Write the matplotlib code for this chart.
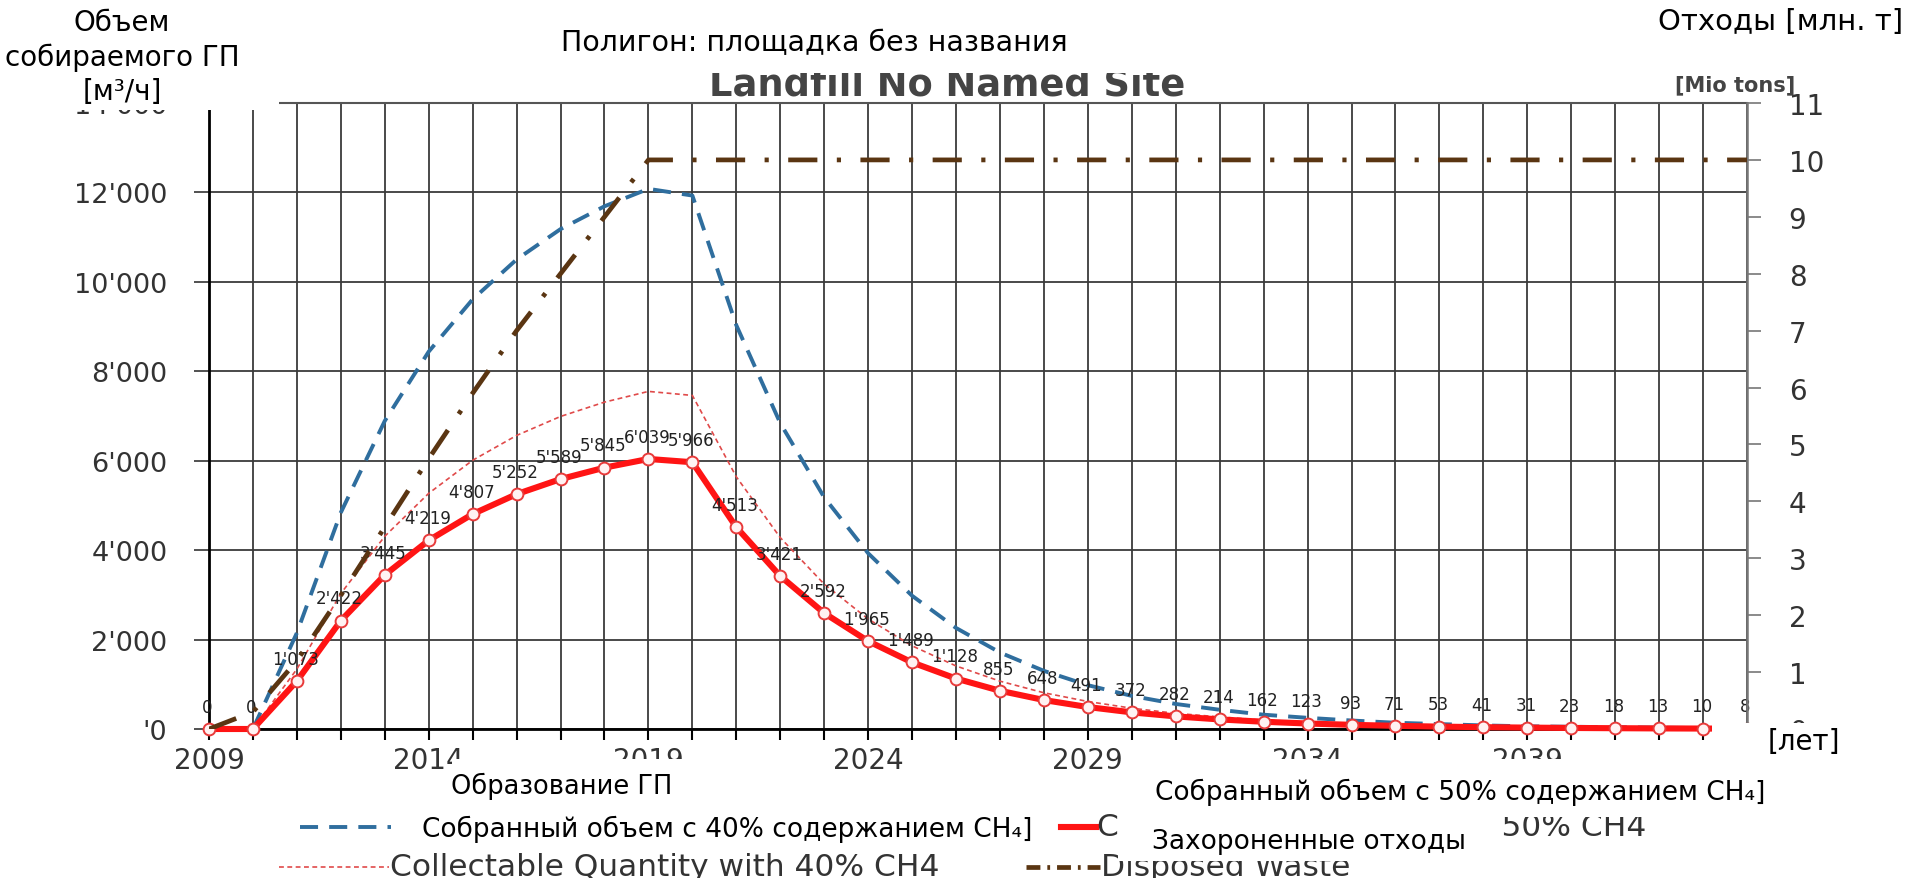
import matplotlib
matplotlib.use("Agg")
import matplotlib.pyplot as plt
from matplotlib.patches import Rectangle
from matplotlib.lines import Line2D

# ---------------- data ----------------
years = list(range(2009, 2045))
collect_50 = [0, 0, 1073, 2422, 3445, 4219, 4807, 5252, 5589, 5845, 6039, 5966,
              4513, 3421, 2592, 1965, 1489, 1128, 855, 648, 491, 372, 282, 214,
              162, 123, 93, 71, 53, 41, 31, 23, 18, 13, 10, 8]
collect_40 = [0, 0, 1340, 3030, 4310, 5270, 6010, 6565, 6990, 7310, 7550, 7460,
              5640, 4280, 3240, 2460, 1860, 1410, 1070, 810, 615, 465, 350, 270,
              200, 155, 115, 90, 66, 51, 39, 29, 22, 16, 12, 10]
gas_generation = [0, 0, 2150, 4840, 6890, 8440, 9610, 10500, 11180, 11690, 12080, 11930,
                  9030, 6840, 5180, 3930, 2980, 2260, 1710, 1300, 980, 740, 560, 430,
                  320, 250, 190, 140, 110, 80, 60, 50, 40, 30, 20, 16]
disposed_waste = [0, 0.3, 1.2, 2.35, 3.55, 4.75, 5.9, 7.0, 8.0, 9.0, 10, 10,
                  10, 10, 10, 10, 10, 10, 10, 10, 10, 10, 10, 10,
                  10, 10, 10, 10, 10, 10, 10, 10, 10, 10, 10, 10]
x_label_years = [2009, 2014, 2019, 2024, 2029, 2034, 2039, 2044]
left_ticks = [0, 2000, 4000, 6000, 8000, 10000, 12000, 14000]
left_tick_labels = ["'0", "2'000", "4'000", "6'000", "8'000", "10'000", "12'000", "14'000"]
right_ticks = list(range(0, 12))

legend_orig = ["Gas Generation", "Collectable Quantity with 50% CH4",
               "Collectable Quantity with 40% CH4", "Disposed Waste"]

# ---------------- figure ----------------
W, H = 1916, 879
fig = plt.figure(figsize=(W / 100, H / 100), dpi=100)
fig.patch.set_facecolor("white")
plt.rcParams["lines.scale_dashes"] = False


def fx(px):
    return px / W


def fy(py):
    return 1 - py / H


L, R, T, B = 209, 1747, 104, 730
ax = fig.add_axes([fx(L), fy(B), fx(R) - fx(L), fy(T) - fy(B)])
ax.set_xlim(2009, 2044)
ax.set_ylim(0, 14000)
ax.set_axisbelow(True)

TXT = "#333333"
ax.set_xticks(years)
ax.set_xticklabels([str(y) if y in x_label_years else "" for y in years],
                   fontsize=20, color=TXT)
ax.set_yticks(left_ticks)
ax.set_yticklabels(left_tick_labels, fontsize=19.5, color=TXT)
ax.tick_params(axis="x", direction="out", length=8, width=1.5, color="black", pad=4)
ax.tick_params(axis="y", direction="out", length=11, width=1.2, color="#333333", pad=19)
ax.grid(True, color="#3a3a3a", linewidth=1.3)

for s in ["left", "bottom"]:
    ax.spines[s].set_color("black")
    ax.spines[s].set_linewidth(2)
ax.spines["top"].set_color("#555555")
ax.spines["top"].set_linewidth(1.5)
ax.spines["right"].set_visible(False)

# gas generation - blue dashed
ax.plot(years[1:], gas_generation[1:], color="#2f6e9e", linewidth=2.8,
        dashes=(13, 8), zorder=3)
# collectable 40% - thin red dashed
ax.plot(years[1:], collect_40[1:], color="#e04a4a", linewidth=1.2,
        dashes=(3.5, 2.5), zorder=3)
# collectable 50% - thick red with markers
ax.plot(years, collect_50, color="#ff1414", linewidth=4.4, marker="o",
        markersize=8.5, markerfacecolor="#fff2f2", markeredgecolor="#e83a3a",
        markeredgewidth=1.4, zorder=6, clip_on=False)

for yr, v in zip(years, collect_50):
    ax.annotate(f"{v:,}".replace(",", "'"), (yr, v), xytext=(-1, 16),
                textcoords="offset points", ha="center", va="center",
                fontsize=12, color="#222222", zorder=7)

# right axis - disposed waste
ax2 = ax.twinx()
ax2.set_ylim(0, 11)
ax2.set_yticks(right_ticks)
ax2.set_yticklabels([str(v) for v in right_ticks], fontsize=20, color=TXT)
ax2.tick_params(axis="y", direction="out", length=10, width=1.2, color="#777777", pad=20)
for s in ["left", "bottom", "top"]:
    ax2.spines[s].set_visible(False)
ax2.spines["right"].set_color("#777777")
ax2.spines["right"].set_linewidth(1.8)
ax2.plot(years, disposed_waste, color="#5a3512", linewidth=3.4,
         dashes=(21, 14, 3, 14), zorder=4)

# ---------------- original chart texts ----------------
fig.text(fx(947), fy(85), "Landfill No Named Site", fontsize=26.5, fontweight="bold",
         color="#444444", ha="center", va="center", zorder=5)
fig.text(fx(1735), fy(85), "[Mio tons]", fontsize=15, fontweight="bold",
         color="#444444", ha="center", va="center", zorder=5)


def leg_line(x0, x1, y, **kw):
    fig.add_artist(Line2D([fx(x0), fx(x1)], [fy(y), fy(y)], transform=fig.transFigure,
                          zorder=5, **kw))


LEGFS = 22.5
leg_line(300, 391, 828, color="#2f6e9e", linewidth=2.8, dashes=(13, 8))
fig.text(fx(396), fy(828), legend_orig[0], fontsize=LEGFS, color=TXT, va="center", zorder=5)
leg_line(1061, 1096, 828, color="#ff1414", linewidth=4.4)
fig.text(fx(1097), fy(828), legend_orig[1], fontsize=LEGFS, color=TXT, va="center", zorder=5)
leg_line(279, 389, 868, color="#e04a4a", linewidth=1.2, dashes=(3.5, 2.5))
fig.text(fx(390), fy(868), legend_orig[2], fontsize=LEGFS, color=TXT, va="center", zorder=5)
leg_line(1026, 1100, 868, color="#5a3512", linewidth=3.4, dashes=(10, 5, 2, 5))
fig.text(fx(1101), fy(868), legend_orig[3], fontsize=LEGFS, color=TXT, va="center", zorder=5)


# ---------------- white overlay boxes with Russian captions ----------------
def box(x0, y0, x1, y1):
    fig.add_artist(Rectangle((fx(x0), fy(y1)), fx(x1) - fx(x0), fy(y0) - fy(y1),
                             transform=fig.transFigure, facecolor="white",
                             edgecolor="none", zorder=10))


def cap(x, y, s, ha="center", size=20):
    fig.text(fx(x), fy(y), s, fontsize=size, color="black", ha=ha, va="center",
             family="DejaVu Sans", zorder=11)


box(0, 0, 279, 111)
cap(122, 23, "Объем")
cap(122, 58, "собираемого ГП")
cap(122, 92, "[м³/ч]")

box(279, 0, 1200, 74)
cap(814, 43, "Полигон: площадка без названия", size=20.5)

box(1610, 0, 1916, 70)
cap(1781, 22, "Отходы [млн. т]", size=21)

box(452, 760, 700, 812)
cap(562, 786, "Образование ГП", size=18.5)

box(393, 806, 1045, 852)
cap(422, 829, "Собранный объем с 40% содержанием CH₄]", ha="left", size=19)

box(1140, 760, 1790, 818)
cap(1155, 792, "Собранный объем с 50% содержанием CH₄]", ha="left", size=19)

box(1118, 812, 1495, 862)
cap(1152, 842, "Захороненные отходы", ha="left", size=19)

box(1712, 724, 1860, 760)
cap(1768, 742, "[лет]", ha="left")

fig.savefig("out.png", dpi=100, facecolor="white")
